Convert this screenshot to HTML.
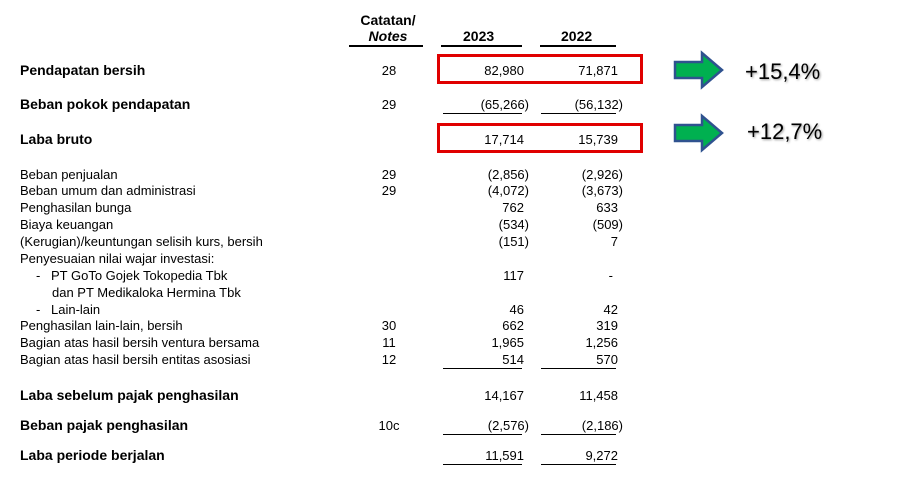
<!DOCTYPE html>
<html><head><meta charset="utf-8"><style>
body{margin:0;width:897px;height:494px;background:#fff;position:relative;overflow:hidden;font-family:"Liberation Sans",Arial,sans-serif;color:#000}
.t{position:absolute;white-space:nowrap;font-size:13px;line-height:15px}
.b{font-weight:bold;font-size:14px}
.n{position:absolute;white-space:nowrap;font-size:13px;line-height:15px;text-align:right;width:100px}
.np{padding-right:5px;box-sizing:border-box}
.ul{position:absolute;height:1px;background:#000}
.box{position:absolute;border:3px solid #e00000;box-sizing:border-box}
.pct{position:absolute;font-size:22px;line-height:24px;text-shadow:1px 1px 2px #999}
</style></head><body>
<div class="t b" style="left:356px;top:12px;text-align:center;width:64px;line-height:16px">Catatan/<br><i>Notes</i></div>
<div class="ul" style="left:349px;top:45px;width:74px;height:2px"></div>
<div class="t b" style="left:463px;top:29px">2023</div>
<div class="ul" style="left:441px;top:45px;width:81px;height:2px"></div>
<div class="t b" style="left:561px;top:29px">2022</div>
<div class="ul" style="left:540px;top:45px;width:76px;height:2px"></div>

<div class="box" style="left:437px;top:54px;width:206px;height:30px"></div>
<div class="box" style="left:437px;top:123px;width:206px;height:30px"></div>

<svg style="position:absolute;left:672px;top:50px" width="56" height="104">
<polygon points="3,12 30,12 30,3 50,20 30,37 30,28 3,28" fill="#00b050" stroke="#2f528f" stroke-width="2.5"/>
<polygon points="3,75 30,75 30,66 50,83 30,100 30,91 3,91" fill="#00b050" stroke="#2f528f" stroke-width="2.5"/>
</svg>
<div class="pct" style="left:745px;top:60px">+15,4%</div>
<div class="pct" style="left:747px;top:120px">+12,7%</div>

<div id="rows"></div>
<script>
const labels=["Pendapatan bersih","Beban pokok pendapatan","Laba bruto","Beban penjualan","Beban umum dan administrasi","Penghasilan bunga","Biaya keuangan","(Kerugian)/keuntungan selisih kurs, bersih","Penyesuaian nilai wajar investasi:","-PT GoTo Gojek Tokopedia Tbk","     dan PT Medikaloka Hermina Tbk","-Lain-lain","Penghasilan lain-lain, bersih","Bagian atas hasil bersih ventura bersama","Bagian atas hasil bersih entitas asosiasi","Laba sebelum pajak penghasilan","Beban pajak penghasilan","Laba periode berjalan"];
const notes=["28","29","","29","29","","","","","","","","30","11","12","","10c",""];
const v2023=["82,980","(65,266)","17,714","(2,856)","(4,072)","762","(534)","(151)","","117","","46","662","1,965","514","14,167","(2,576)","11,591"];
const v2022=["71,871","(56,132)","15,739","(2,926)","(3,673)","633","(509)","7","","-","","42","319","1,256","570","11,458","(2,186)","9,272"];
const tops=[63,97,132,167,183,200,217,234,251,268,285,302,318,335,352,388,418,448];
const bold=[1,1,1,0,0,0,0,0,0,0,0,0,0,0,0,1,1,1];
const under=[0,1,0,0,0,0,0,0,0,0,0,0,0,0,1,0,1,1];
const root=document.getElementById('rows');
function mk(cls,txt,style,name){const d=document.createElement('div');d.className=cls;d.textContent=txt;d.style.cssText=style;


root.appendChild(d);return d;}
labels.forEach((l,i)=>{
 const y=tops[i];
 if(l.startsWith('-')){
  mk('t','-',`left:36px;top:${y}px`,'row-bullet-'+i);
  mk('t',l.slice(1),`left:51px;top:${y}px`,'row-label-'+i);
 } else {
  const lx=l.startsWith(' ')?52:20;
  mk('t'+(bold[i]?' b':''),l.trim(),`left:${lx}px;top:${y}px`,'row-label-'+i);
 }
 if(notes[i])mk('t',notes[i],`left:369px;width:40px;text-align:center;top:${y}px`,'row-note-'+i);
 [[v2023[i],429,'2023'],[v2022[i],523,'2022']].forEach(([v,x,yr])=>{
  if(!v)return;
  const p=v.endsWith(')');
  mk('n'+(p?'':' np'),v,`left:${x}px;top:${y}px;${v==='-'?'padding-right:10px;':''}`,'value-'+yr+'-'+i);
 });
 if(under[i]){
  const uy=y+16;
  mk('ul','',`left:443px;top:${uy}px;width:79px`,'underline-2023-'+i);
  mk('ul','',`left:541px;top:${uy}px;width:75px`,'underline-2022-'+i);
 }
});
</script>
</body></html>
